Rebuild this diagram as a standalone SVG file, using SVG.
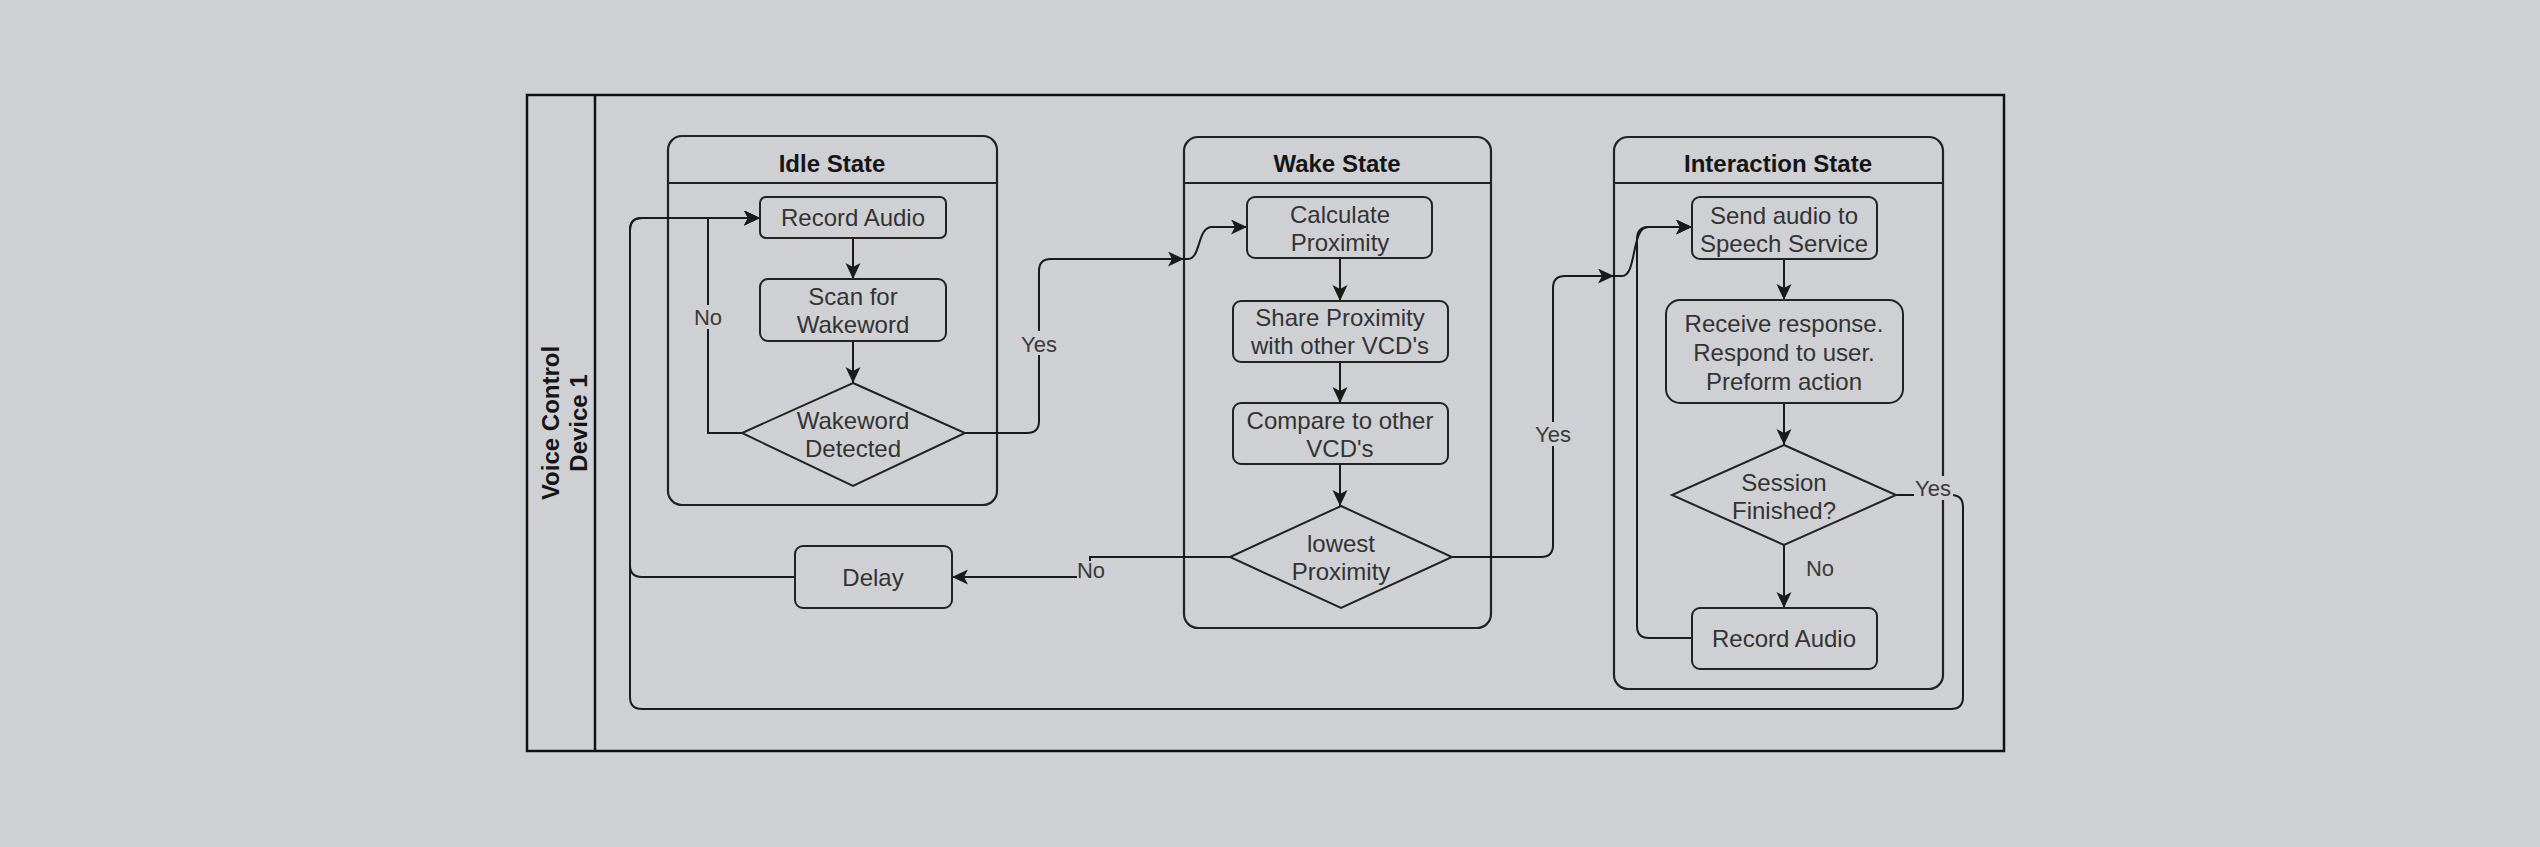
<svg xmlns="http://www.w3.org/2000/svg" width="2540" height="847" viewBox="0 0 2540 847">
<style>
  .bg{fill:#cfd0d4}
  .box{fill:none;stroke:#222;stroke-width:2}
  .cont{fill:none;stroke:#222;stroke-width:2.2}
  .t{font-family:"Liberation Sans",Arial,sans-serif;font-size:24px;fill:#333;text-anchor:middle}
  .title{font-family:"Liberation Sans",Arial,sans-serif;font-size:24px;font-weight:bold;fill:#151515;text-anchor:middle}
  .lbl{font-family:"Liberation Sans",Arial,sans-serif;font-size:22px;fill:#3a3a3a;text-anchor:middle}
  .edge{fill:none;stroke:#1a1a1a;stroke-width:2}
  .lblbg{fill:#cfd0d4}
</style>
<defs>
  <marker id="arr" markerUnits="userSpaceOnUse" markerWidth="17" markerHeight="16" refX="16" refY="7.5" orient="auto">
    <path d="M0,0 L16,7.5 L0,15 L4,7.5 z" fill="#1a1a1a"/>
  </marker>
</defs>
<rect class="bg" x="0" y="0" width="2540" height="847"/>

<g id="pool">
  <rect x="527" y="95" width="1477" height="656" fill="none" stroke="#111" stroke-width="2.5"/>
  <line x1="595" y1="95" x2="595" y2="751" stroke="#111" stroke-width="2.5"/>
  <text class="title" transform="translate(565,423) rotate(-90)"><tspan x="0" y="-6">Voice Control</tspan><tspan x="0" y="22">Device 1</tspan></text>
</g>

<g id="idle-state">
  <rect class="cont" x="668" y="136" width="329" height="369" rx="14"/>
  <line class="cont" x1="668" y1="183" x2="997" y2="183"/>
  <text class="title" x="832" y="172">Idle State</text>
</g>
<g id="wake-state">
  <rect class="cont" x="1184" y="137" width="307" height="491" rx="14"/>
  <line class="cont" x1="1184" y1="183" x2="1491" y2="183"/>
  <text class="title" x="1337" y="172">Wake State</text>
</g>
<g id="interaction-state">
  <rect class="cont" x="1614" y="137" width="329" height="552" rx="14"/>
  <line class="cont" x1="1614" y1="183" x2="1943" y2="183"/>
  <text class="title" x="1778" y="172">Interaction State</text>
</g>

<g id="connectors">
  <path class="edge" d="M853,238 V279" marker-end="url(#arr)"/>
  <path class="edge" d="M853,341 V383" marker-end="url(#arr)"/>
  <path class="edge" d="M742,433 H708 V218 H760" marker-end="url(#arr)"/>
  <path class="edge" d="M965,433 H1027 Q1039,433 1039,421 V271 Q1039,259 1051,259 H1184" marker-end="url(#arr)"/>
  <path class="edge" d="M1184,259 H1188 C1201,259 1197,227 1212,227 H1247" marker-end="url(#arr)"/>
  <path class="edge" d="M1340,258 V301" marker-end="url(#arr)"/>
  <path class="edge" d="M1340,362 V403" marker-end="url(#arr)"/>
  <path class="edge" d="M1340,464 V506" marker-end="url(#arr)"/>
  <path class="edge" d="M1230,557 H1090 V577 H952" marker-end="url(#arr)"/>
  <path class="edge" d="M795,577 H642 Q630,577 630,565 V230 Q630,218 642,218 H760" marker-end="url(#arr)"/>
  <path class="edge" d="M1452,557 H1541 Q1553,557 1553,545 V288 Q1553,276 1565,276 H1614" marker-end="url(#arr)"/>
  <path class="edge" d="M1614,276 H1622 C1637,276 1631,227 1648,227 H1692" marker-end="url(#arr)"/>
  <path class="edge" d="M1784,259 V300" marker-end="url(#arr)"/>
  <path class="edge" d="M1784,403 V445" marker-end="url(#arr)"/>
  <path class="edge" d="M1784,545 V608" marker-end="url(#arr)"/>
  <path class="edge" d="M1692,638 H1649 Q1637,638 1637,626 V239 Q1637,227 1649,227 H1692" marker-end="url(#arr)"/>
  <path class="edge" d="M1896,495 H1951 Q1963,495 1963,507 V697 Q1963,709 1951,709 H642 Q630,709 630,697 V230 Q630,218 642,218 H760" marker-end="url(#arr)"/>
  <rect class="lblbg" x="694" y="305" width="28" height="24"/>
  <text class="lbl" x="708" y="325">No</text>
  <rect class="lblbg" x="1019" y="331" width="40" height="24"/>
  <text class="lbl" x="1039" y="352">Yes</text>
  <rect class="lblbg" x="1077" y="561" width="28" height="22"/>
  <text class="lbl" x="1091" y="578">No</text>
  <rect class="lblbg" x="1533" y="422" width="40" height="24"/>
  <text class="lbl" x="1553" y="442">Yes</text>
  <text class="lbl" x="1820" y="576">No</text>
  <rect class="lblbg" x="1914" y="476" width="39" height="24"/>
  <text class="lbl" x="1933" y="496">Yes</text>
</g>

<g id="idle-record-audio">
  <rect class="box" x="760" y="197" width="186" height="41" rx="6"/>
  <text class="t" x="853" y="226">Record Audio</text>
</g>
<g id="scan-wakeword">
  <rect class="box" x="760" y="279" width="186" height="62" rx="8"/>
  <text class="t" x="853" y="305">Scan for</text>
  <text class="t" x="853" y="333">Wakeword</text>
</g>
<g id="wakeword-detected">
  <polygon class="box" points="853,383 965,433 853,486 742,433"/>
  <text class="t" x="853" y="429">Wakeword</text>
  <text class="t" x="853" y="457">Detected</text>
</g>
<g id="delay">
  <rect class="box" x="795" y="546" width="157" height="62" rx="8"/>
  <text class="t" x="873" y="586">Delay</text>
</g>
<g id="calculate-proximity">
  <rect class="box" x="1247" y="197" width="185" height="61" rx="8"/>
  <text class="t" x="1340" y="223">Calculate</text>
  <text class="t" x="1340" y="251">Proximity</text>
</g>
<g id="share-proximity">
  <rect class="box" x="1233" y="301" width="215" height="61" rx="8"/>
  <text class="t" x="1340" y="326">Share Proximity</text>
  <text class="t" x="1340" y="354">with other VCD's</text>
</g>
<g id="compare">
  <rect class="box" x="1233" y="403" width="215" height="61" rx="8"/>
  <text class="t" x="1340" y="429">Compare to other</text>
  <text class="t" x="1340" y="457">VCD's</text>
</g>
<g id="lowest-proximity">
  <polygon class="box" points="1341,506 1452,557 1341,608 1230,557"/>
  <text class="t" x="1341" y="552">lowest</text>
  <text class="t" x="1341" y="580">Proximity</text>
</g>
<g id="send-audio">
  <rect class="box" x="1692" y="197" width="185" height="62" rx="8"/>
  <text class="t" x="1784" y="224">Send audio to</text>
  <text class="t" x="1784" y="252">Speech Service</text>
</g>
<g id="receive-response">
  <rect class="box" x="1666" y="300" width="237" height="103" rx="14"/>
  <text class="t" x="1784" y="332">Receive response.</text>
  <text class="t" x="1784" y="361">Respond to user.</text>
  <text class="t" x="1784" y="390">Preform action</text>
</g>
<g id="session-finished">
  <polygon class="box" points="1784,445 1896,495 1784,545 1672,495"/>
  <text class="t" x="1784" y="491">Session</text>
  <text class="t" x="1784" y="519">Finished?</text>
</g>
<g id="interaction-record-audio">
  <rect class="box" x="1692" y="608" width="185" height="61" rx="8"/>
  <text class="t" x="1784" y="647">Record Audio</text>
</g>
</svg>
